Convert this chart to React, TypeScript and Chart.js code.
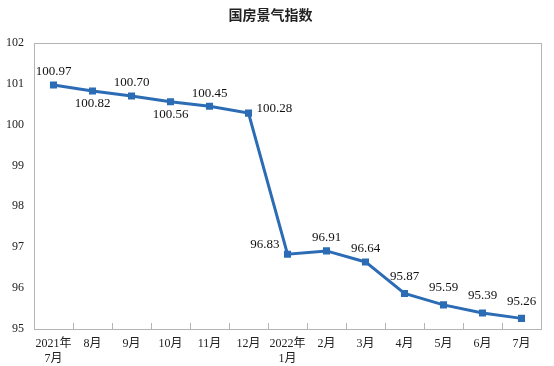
import React, { useEffect, useRef } from "react";
import { Chart, registerables } from "chart.js";

Chart.register(...registerables);

const categories: (string | string[])[] = [
  ["2021年", "7月"], "8月", "9月", "10月", "11月", "12月",
  ["2022年", "1月"], "2月", "3月", "4月", "5月", "6月", "7月",
];
const values = [100.97, 100.82, 100.7, 100.56, 100.45, 100.28, 96.83, 96.91, 96.64, 95.87, 95.59, 95.39, 95.26];
const labelPositions = ["above", "below", "above", "below", "above", "right", "left", "above", "above", "aboveHigh", "aboveHigh", "aboveHigh", "aboveHigh"];
const yTicks = [95, 96, 97, 98, 99, 100, 101, 102];

const LINE = "#2c6cb5";
const AXIS = "#b4b4b4";
const SERIF = "'Liberation Serif', 'Times New Roman', 'Noto Sans CJK SC', serif";

const framePlugin = {
  id: "frame",
  afterDraw(chart: any) {
    const { ctx, chartArea } = chart;
    const xs = chart.scales.x;
    ctx.save();
    ctx.strokeStyle = AXIS;
    ctx.lineWidth = 1;
    ctx.strokeRect(Math.round(chartArea.left) + 0.5, Math.round(chartArea.top) + 0.5,
      Math.round(chartArea.right - chartArea.left), Math.round(chartArea.bottom - chartArea.top));
    const n = categories.length;
    const step = xs.getPixelForValue(1) - xs.getPixelForValue(0);
    for (let i = 1; i < n; i++) {
      const x = Math.round(xs.getPixelForValue(i) - step / 2) + 0.5;
      ctx.beginPath();
      ctx.moveTo(x, chartArea.bottom);
      ctx.lineTo(x, chartArea.bottom - 6);
      ctx.stroke();
    }
    ctx.restore();
  },
};

const labelPlugin = {
  id: "valueLabels",
  afterDatasetsDraw(chart: any) {
    const { ctx } = chart;
    const meta = chart.getDatasetMeta(0);
    ctx.save();
    ctx.font = `13px ${SERIF}`;
    ctx.fillStyle = "#111";
    meta.data.forEach((pt: any, i: number) => {
      const t = values[i].toFixed(2);
      const pos = labelPositions[i];
      let x = pt.x, y = pt.y;
      ctx.textAlign = "center";
      ctx.textBaseline = "middle";
      if (pos === "above") y -= 13;
      else if (pos === "aboveHigh") y -= 17;
      else if (pos === "below") y += 13;
      else if (pos === "right") { ctx.textAlign = "left"; x += 8; y -= 5; }
      else if (pos === "left") { ctx.textAlign = "right"; x -= 8; y -= 10; }
      ctx.fillText(t, x, y);
    });
    ctx.restore();
  },
};

export default function App() {
  const ref = useRef<HTMLCanvasElement>(null);
  useEffect(() => {
    if (!ref.current) return;
    const chart = new Chart(ref.current, {
      type: "line",
      data: {
        labels: categories,
        datasets: [{
          data: values,
          borderColor: LINE,
          backgroundColor: LINE,
          borderWidth: 3,
          pointStyle: "rect",
          pointRadius: 5,
          pointBorderWidth: 0,
          pointBackgroundColor: LINE,
          tension: 0,
        }],
      },
      options: {
        responsive: false,
        animation: false,
        layout: { padding: { left: 0, right: 13, top: 0, bottom: 0 } },
        plugins: {
          legend: { display: false },
          tooltip: { enabled: false },
          title: {
            display: true,
            text: "国房景气指数",
            color: "#222",
            font: { size: 14, weight: "bold", family: "'Noto Sans CJK SC', sans-serif" },
            padding: { top: 6, bottom: 20 },
          },
        },
        scales: {
          x: {
            offset: true,
            grid: { display: false, offset: true, drawTicks: false },
            border: { display: false },
            ticks: { color: "#222", font: { size: 12, family: SERIF }, maxRotation: 0, autoSkip: false, padding: 8 },
            afterFit: (s: any) => { s.height = 37; },
          },
          y: {
            min: 95,
            max: 102,
            afterBuildTicks: (s: any) => { s.ticks = yTicks.map((v) => ({ value: v })); },
            grid: { display: false, drawTicks: false },
            border: { display: false },
            ticks: { color: "#222", font: { size: 12, family: SERIF }, padding: 10 },
            afterFit: (s: any) => { s.width = 34; },
          },
        },
      },
      plugins: [framePlugin, labelPlugin],
    });
    return () => chart.destroy();
  }, []);
  return (
    <div style={{ position: "fixed", left: 0, top: 0, width: 554, height: 366, background: "#fff" }}>
      <canvas ref={ref} width={554} height={366} />
    </div>
  );
}
